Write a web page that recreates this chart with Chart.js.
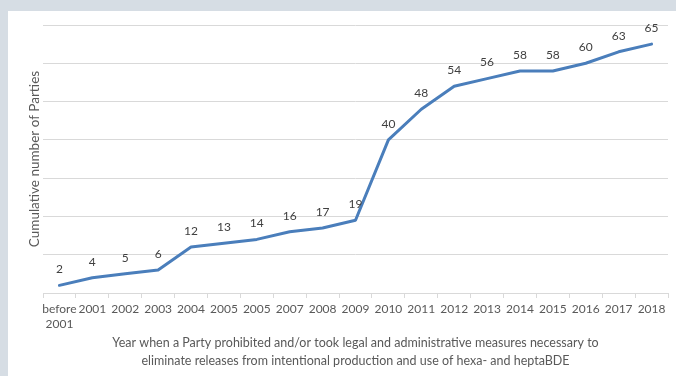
<!DOCTYPE html>
<html>
<head>
<meta charset="utf-8">
<script src="https://cdn.jsdelivr.net/npm/chart.js@4"></script>
<style>
  html, body { margin: 0; padding: 0; }
  body { width: 676px; height: 376px; background: #d6dde4; position: relative; overflow: hidden; }
  #panel { position: absolute; left: 8px; top: 11px; width: 668px; height: 365px; background: #fff; }
</style>
</head>
<body>
<div id="panel"><canvas id="chart" width="668" height="365"></canvas></div>
<script>
const years = [['before', '2001'], '2001', '2002', '2003', '2004', '2005', '2005', '2007', '2008', '2009',
  '2010', '2011', '2012', '2013', '2014', '2015', '2016', '2017', '2018'];
const parties = [2, 4, 5, 6, 12, 13, 14, 16, 17, 19, 40, 48, 54, 56, 58, 58, 60, 63, 65];
const xTitle = ['Year when a Party prohibited and/or took legal and administrative measures necessary to',
  'eliminate releases from intentional production and use of hexa- and heptaBDE'];
const yTitle = 'Cumulative number of Parties';

const textColor = '#595959';
const gridColor = '#d9d9d9';

// value labels above each point
const pointLabels = {
  id: 'pointLabels',
  afterDatasetsDraw(chart) {
    const ctx = chart.ctx;
    const meta = chart.getDatasetMeta(0);
    ctx.save();
    ctx.font = '12px Lato';
    ctx.fillStyle = '#404040';
    ctx.textAlign = 'center';
    ctx.textBaseline = 'middle';
    meta.data.forEach((pt, i) => {
      ctx.fillText(String(parties[i]), pt.x, pt.y - 16);
    });
    ctx.restore();
  }
};

new Chart(document.getElementById('chart'), {
  type: 'line',
  data: {
    labels: years,
    datasets: [{
      data: parties,
      borderColor: '#4a7ebb',
      borderWidth: 3,
      borderJoinStyle: 'round',
      borderCapStyle: 'round',
      pointRadius: 0,
      tension: 0,
      fill: false
    }]
  },
  options: {
    responsive: false,
    animation: false,
    layout: { padding: { top: 14, right: 8, left: 0, bottom: 0 } },
    plugins: { legend: { display: false }, tooltip: { enabled: false } },
    scales: {
      x: {
        offset: true,
        grid: { offset: true, drawOnChartArea: false, drawTicks: true, tickLength: 5, color: gridColor },
        border: { display: true, color: gridColor, width: 1 },
        ticks: { color: textColor, font: { family: 'Lato', size: 12, lineHeight: 1.3 }, padding: 3, maxRotation: 0, autoSkip: false },
        title: {
          display: true,
          text: xTitle,
          color: textColor,
          font: { family: 'Lato', size: 12.5, lineHeight: 1.45 },
          padding: { top: 0, bottom: 6 }
        },
        afterFit(scale) { scale.height = 83; }
      },
      y: {
        min: 0,
        max: 70,
        ticks: { display: false, stepSize: 10 },
        grid: { color: gridColor, drawTicks: false, lineWidth: 1 },
        border: { display: false },
        title: {
          display: true,
          text: yTitle,
          color: textColor,
          font: { family: 'Lato', size: 13.5, lineHeight: 1.2 },
          padding: { top: 19, bottom: 0 }
        },
        afterFit(scale) { scale.width = 35; }
      }
    }
  },
  plugins: [pointLabels]
});
</script>
</body>
</html>
